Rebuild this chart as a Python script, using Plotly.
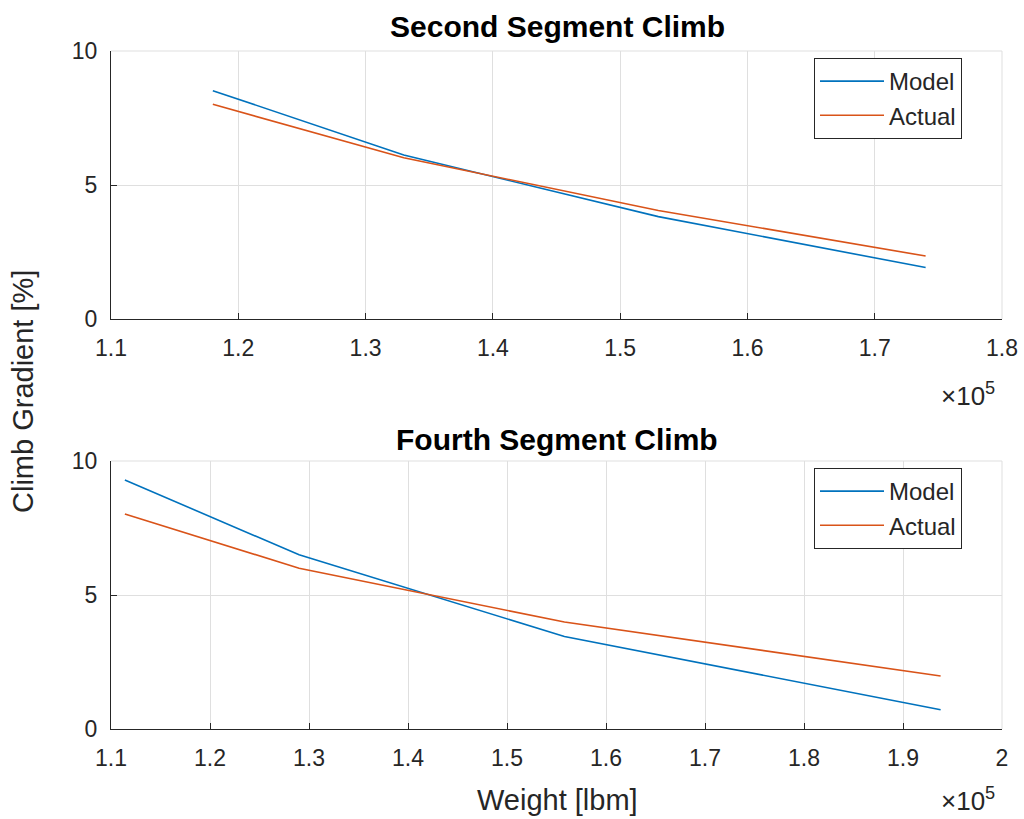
import plotly.graph_objects as go

# ---- data ----
w_second = [118000, 133000, 153000, 174000]
model_second = [8.52, 6.12, 3.82, 1.92]
actual_second = [8.01, 6.02, 4.05, 2.35]

w_fourth = [111400, 129000, 155800, 193800]
model_fourth = [9.29, 6.50, 3.45, 0.72]
actual_fourth = [8.02, 6.00, 3.99, 1.98]

xticks_second = [110000, 120000, 130000, 140000, 150000, 160000, 170000, 180000]
xtext_second = ["1.1", "1.2", "1.3", "1.4", "1.5", "1.6", "1.7", "1.8"]
xticks_fourth = [110000, 120000, 130000, 140000, 150000, 160000, 170000, 180000, 190000, 200000]
xtext_fourth = ["1.1", "1.2", "1.3", "1.4", "1.5", "1.6", "1.7", "1.8", "1.9", "2"]
yticks = [0, 5, 10]
ytext = ["0", "5", "10"]

BLUE = "#0072BD"
ORANGE = "#D95319"
FONT = "Liberation Sans, Arial, Helvetica, sans-serif"
TXT = "#262626"
GRID = "#DFDFDF"

W, H = 1024, 819
def px(x):
    return x / W
def py(y):
    return 1 - y / H

fig = go.Figure()
fig.add_trace(go.Scatter(x=w_second, y=model_second, mode="lines", name="Model",
                         line=dict(color=BLUE, width=1.6), xaxis="x", yaxis="y",
                         legend="legend"))
fig.add_trace(go.Scatter(x=w_second, y=actual_second, mode="lines", name="Actual",
                         line=dict(color=ORANGE, width=1.6), xaxis="x", yaxis="y",
                         legend="legend"))
fig.add_trace(go.Scatter(x=w_fourth, y=model_fourth, mode="lines", name="Model",
                         line=dict(color=BLUE, width=1.6), xaxis="x2", yaxis="y2",
                         legend="legend2"))
fig.add_trace(go.Scatter(x=w_fourth, y=actual_fourth, mode="lines", name="Actual",
                         line=dict(color=ORANGE, width=1.6), xaxis="x2", yaxis="y2",
                         legend="legend2"))

L, R = 111, 1002
top1, bot1 = 51, 319
top2, bot2 = 461, 729

TICK = 23
LAB = 29

axis_common = dict(showgrid=True, gridcolor=GRID, gridwidth=1, zeroline=False,
                   showline=True, linecolor=TXT, linewidth=1, ticks="inside", ticklen=6,
                   tickcolor=TXT, tickfont=dict(family=FONT, size=TICK, color=TXT))

legend_common = dict(xanchor="left", yanchor="top",
                     bgcolor="white", bordercolor=TXT, borderwidth=1,
                     font=dict(family=FONT, size=24, color=TXT), itemwidth=64,
                     tracegroupgap=0)

fig.update_layout(
    width=W, height=H,
    margin=dict(l=0, r=0, t=0, b=0, pad=0, autoexpand=False),
    paper_bgcolor="white", plot_bgcolor="white",
    font=dict(family=FONT, color=TXT),
    xaxis=dict(domain=[px(L), px(R)], anchor="y", range=[110000, 180000],
               tickvals=xticks_second, ticktext=xtext_second, ticklabelstandoff=8,
               automargin=False, **axis_common),
    yaxis=dict(domain=[py(bot1), py(top1)], anchor="x", range=[0, 10],
               tickvals=yticks, ticktext=ytext, ticklabelstandoff=8,
               automargin=False, **axis_common),
    xaxis2=dict(domain=[px(L), px(R)], anchor="y2", range=[110000, 200000],
                tickvals=xticks_fourth, ticktext=xtext_fourth, ticklabelstandoff=8,
                automargin=False, **axis_common),
    yaxis2=dict(domain=[py(bot2), py(top2)], anchor="x2", range=[0, 10],
                tickvals=yticks, ticktext=ytext, ticklabelstandoff=8,
                automargin=False, **axis_common),
    legend=dict(x=px(814), y=py(58), **legend_common),
    legend2=dict(x=px(814), y=py(468), **legend_common),
    showlegend=True,
)

# light top/right box edges
for (t, b) in [(top1, bot1), (top2, bot2)]:
    fig.add_shape(type="line", xref="paper", yref="paper", x0=px(L), x1=px(R), y0=py(t), y1=py(t),
                  line=dict(color=GRID, width=1), layer="below")
    fig.add_shape(type="line", xref="paper", yref="paper", x0=px(R), x1=px(R), y0=py(t), y1=py(b),
                  line=dict(color=GRID, width=1), layer="below")

ann = [
    dict(text="<b>Second Segment Climb</b>", x=px(557), y=py(27), size=30, color="black"),
    dict(text="<b>Fourth Segment Climb</b>", x=px(557), y=py(439), size=30, color="black"),
    dict(text="Weight [lbm]", x=px(557), y=py(800), size=LAB, color=TXT),
    dict(text="×10<sup>5</sup>", x=px(968), y=py(394), size=26, color=TXT),
    dict(text="×10<sup>5</sup>", x=px(968), y=py(799), size=26, color=TXT),
]
for a in ann:
    fig.add_annotation(text=a["text"], x=a["x"], y=a["y"], xref="paper", yref="paper",
                       showarrow=False, xanchor="center", yanchor="middle",
                       font=dict(family=FONT, size=a["size"], color=a["color"]))
fig.add_annotation(text="Climb Gradient [%]", x=px(23), y=py(392), xref="paper", yref="paper",
                   showarrow=False, textangle=-90, xanchor="center", yanchor="middle",
                   font=dict(family=FONT, size=LAB, color=TXT))

fig.write_html("out.html")
